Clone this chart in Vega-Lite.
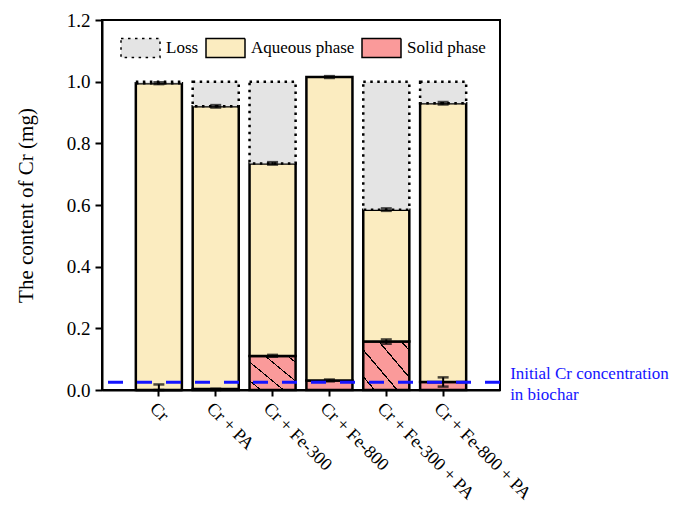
{
  "$schema": "https://vega.github.io/schema/vega-lite/v6.json",
  "width": 398,
  "height": 370,
  "autosize": {"type": "none"},
  "padding": {"left": 102, "top": 20, "right": 186, "bottom": 119},
  "background": "white",
  "config": {
    "font": "Liberation Serif, Times New Roman, serif",
    "view": {"stroke": "black", "strokeWidth": 2},
    "axis": {"labelFont": "Liberation Serif", "titleFont": "Liberation Serif", "labelColor": "black", "titleColor": "black", "domainColor": "black", "tickColor": "black", "domainWidth": 2, "tickWidth": 2, "grid": false},
    "legend": {"labelFont": "Liberation Serif", "labelColor": "black"},
    "text": {"font": "Liberation Serif"}
  },
  "datasets": {
    "bars": [
      {"group": "Cr", "phase": "Solid phase", "order": 1, "value": 0},
      {"group": "Cr", "phase": "Aqueous phase", "order": 2, "value": 0.995},
      {"group": "Cr", "phase": "Loss", "order": 3, "value": 0.005},
      {"group": "Cr + PA", "phase": "Solid phase", "order": 1, "value": 0.003},
      {"group": "Cr + PA", "phase": "Aqueous phase", "order": 2, "value": 0.917},
      {"group": "Cr + PA", "phase": "Loss", "order": 3, "value": 0.08},
      {"group": "Cr + Fe-300", "phase": "Solid phase", "order": 1, "value": 0.11},
      {"group": "Cr + Fe-300", "phase": "Aqueous phase", "order": 2, "value": 0.625},
      {"group": "Cr + Fe-300", "phase": "Loss", "order": 3, "value": 0.265},
      {"group": "Cr + Fe-800", "phase": "Solid phase", "order": 1, "value": 0.031},
      {"group": "Cr + Fe-800", "phase": "Aqueous phase", "order": 2, "value": 0.984},
      {"group": "Cr + Fe-300 + PA", "phase": "Solid phase", "order": 1, "value": 0.157},
      {"group": "Cr + Fe-300 + PA", "phase": "Aqueous phase", "order": 2, "value": 0.428},
      {"group": "Cr + Fe-300 + PA", "phase": "Loss", "order": 3, "value": 0.415},
      {"group": "Cr + Fe-800 + PA", "phase": "Solid phase", "order": 1, "value": 0.026},
      {"group": "Cr + Fe-800 + PA", "phase": "Aqueous phase", "order": 2, "value": 0.904},
      {"group": "Cr + Fe-800 + PA", "phase": "Loss", "order": 3, "value": 0.07}
    ],
    "errors": [
      {"group": "Cr", "lo": 0.992, "hi": 0.998},
      {"group": "Cr", "lo": 0.0, "hi": 0.018},
      {"group": "Cr + PA", "lo": 0.916, "hi": 0.924},
      {"group": "Cr + PA", "lo": 0.0, "hi": 0.004},
      {"group": "Cr + Fe-300", "lo": 0.108, "hi": 0.114},
      {"group": "Cr + Fe-300", "lo": 0.731, "hi": 0.739},
      {"group": "Cr + Fe-800", "lo": 1.012, "hi": 1.018},
      {"group": "Cr + Fe-800", "lo": 0.028, "hi": 0.034},
      {"group": "Cr + Fe-300 + PA", "lo": 0.150, "hi": 0.164},
      {"group": "Cr + Fe-300 + PA", "lo": 0.581, "hi": 0.589},
      {"group": "Cr + Fe-800 + PA", "lo": 0.011, "hi": 0.041},
      {"group": "Cr + Fe-800 + PA", "lo": 0.926, "hi": 0.934}
    ],
    "ref": [
      {"group": "Cr + Fe-800 + PA", "level": 0.025, "label": "Initial Cr concentration\nin biochar"}
    ]
  },
  "layer": [
    {
      "data": {"name": "bars"},
      "mark": {"type": "bar", "stroke": "black", "strokeWidth": 2.5},
      "encoding": {
        "x": {
          "field": "group", "type": "nominal", "sort": null,
          "scale": {"paddingInner": 0.19, "paddingOuter": 0.595},
          "axis": {"title": null, "labelAngle": 45, "labelFont": "Liberation Serif", "labelFontSize": 18, "tickSize": 6, "labelPadding": 3, "domain": true}
        },
        "y": {
          "field": "value", "type": "quantitative", "stack": "zero",
          "title": "The content of Cr (mg)",
          "scale": {"domain": [0, 1.2], "nice": false},
          "axis": {
            "title": "The content of Cr (mg)", "titleFont": "Liberation Serif", "titleFontSize": 21, "titleFontWeight": "normal", "titlePadding": 30,
            "labelFont": "Liberation Serif", "labelFontSize": 19, "labelPadding": 5,
            "values": [0, 0.1, 0.2, 0.3, 0.4, 0.5, 0.6, 0.7, 0.8, 0.9, 1.0, 1.1, 1.2],
            "labelExpr": "round(datum.value * 10) % 2 == 0 ? format(datum.value, '.1f') : ''",
            "tickSize": {"condition": {"test": "round(datum.value * 10) % 2 == 0", "value": 7}, "value": 4}
          }
        },
        "order": {"field": "order", "type": "quantitative"},
        "fill": {
          "condition": {
            "test": "datum.phase === 'Solid phase' && datum.value > 0.05",
            "value": {
              "gradient": "linear", "x1": 0, "y1": 1, "x2": 1.1, "y2": 0.02,
              "stops": [
                {"offset": 0, "color": "#fa9a9a"},
                {"offset": 0.115, "color": "#fa9a9a"}, {"offset": 0.115, "color": "#000000"}, {"offset": 0.133, "color": "#000000"}, {"offset": 0.133, "color": "#fa9a9a"},
                {"offset": 0.365, "color": "#fa9a9a"}, {"offset": 0.365, "color": "#000000"}, {"offset": 0.383, "color": "#000000"}, {"offset": 0.383, "color": "#fa9a9a"},
                {"offset": 0.615, "color": "#fa9a9a"}, {"offset": 0.615, "color": "#000000"}, {"offset": 0.633, "color": "#000000"}, {"offset": 0.633, "color": "#fa9a9a"},
                {"offset": 0.865, "color": "#fa9a9a"}, {"offset": 0.865, "color": "#000000"}, {"offset": 0.883, "color": "#000000"}, {"offset": 0.883, "color": "#fa9a9a"},
                {"offset": 1, "color": "#fa9a9a"}
              ]
            }
          },
          "field": "phase", "type": "nominal",
          "scale": {"domain": ["Loss", "Aqueous phase", "Solid phase"], "range": ["#e4e4e4", "#fbecc0", "#fa9a9a"]},
          "legend": {
            "title": null, "orient": "none", "legendX": 18, "legendY": 7, "direction": "horizontal",
            "symbolType": "M-1,-0.49H1V0.49H-1Z", "symbolSize": 1521,
            "labelFont": "Liberation Serif", "labelFontSize": 17, "labelOffset": 5, "columnPadding": 4,
            "encode": {
              "symbols": {
                "update": {
                  "stroke": {"value": "black"},
                  "strokeWidth": {"value": 2.5},
                  "strokeDash": [{"test": "datum.value === 'Loss'", "value": [2.5, 4.5]}, {"value": [1, 0]}]
                }
              }
            }
          }
        },
        "strokeDash": {
          "field": "phase", "type": "nominal",
          "scale": {"domain": ["Loss", "Aqueous phase", "Solid phase"], "range": [[2.5, 4.5], [1, 0], [1, 0]]},
          "legend": null
        }
      }
    },
    {
      "data": {"name": "errors"},
      "mark": {"type": "errorbar", "ticks": {"size": 11, "thickness": 2.5, "color": "black"}, "rule": {"strokeWidth": 2, "color": "black"}},
      "encoding": {
        "x": {"field": "group", "type": "nominal", "sort": null},
        "y": {"field": "lo", "type": "quantitative", "title": "The content of Cr (mg)"},
        "y2": {"field": "hi"}
      }
    },
    {
      "data": {"name": "ref"},
      "mark": {"type": "rule", "color": "#1414ff", "strokeWidth": 3, "strokeDash": [15, 14]},
      "encoding": {
        "y": {"field": "level", "type": "quantitative", "title": "The content of Cr (mg)"}
      }
    },
    {
      "data": {"name": "ref"},
      "mark": {"type": "text", "color": "#1414ff", "fontSize": 17, "font": "Liberation Serif", "align": "left", "baseline": "alphabetic", "lineBreak": "\n", "lineHeight": 21, "dx": 67, "dy": -3},
      "encoding": {
        "x": {"field": "group", "type": "nominal", "sort": null},
        "y": {"field": "level", "type": "quantitative", "title": "The content of Cr (mg)"},
        "text": {"field": "label"}
      }
    }
  ]
}
